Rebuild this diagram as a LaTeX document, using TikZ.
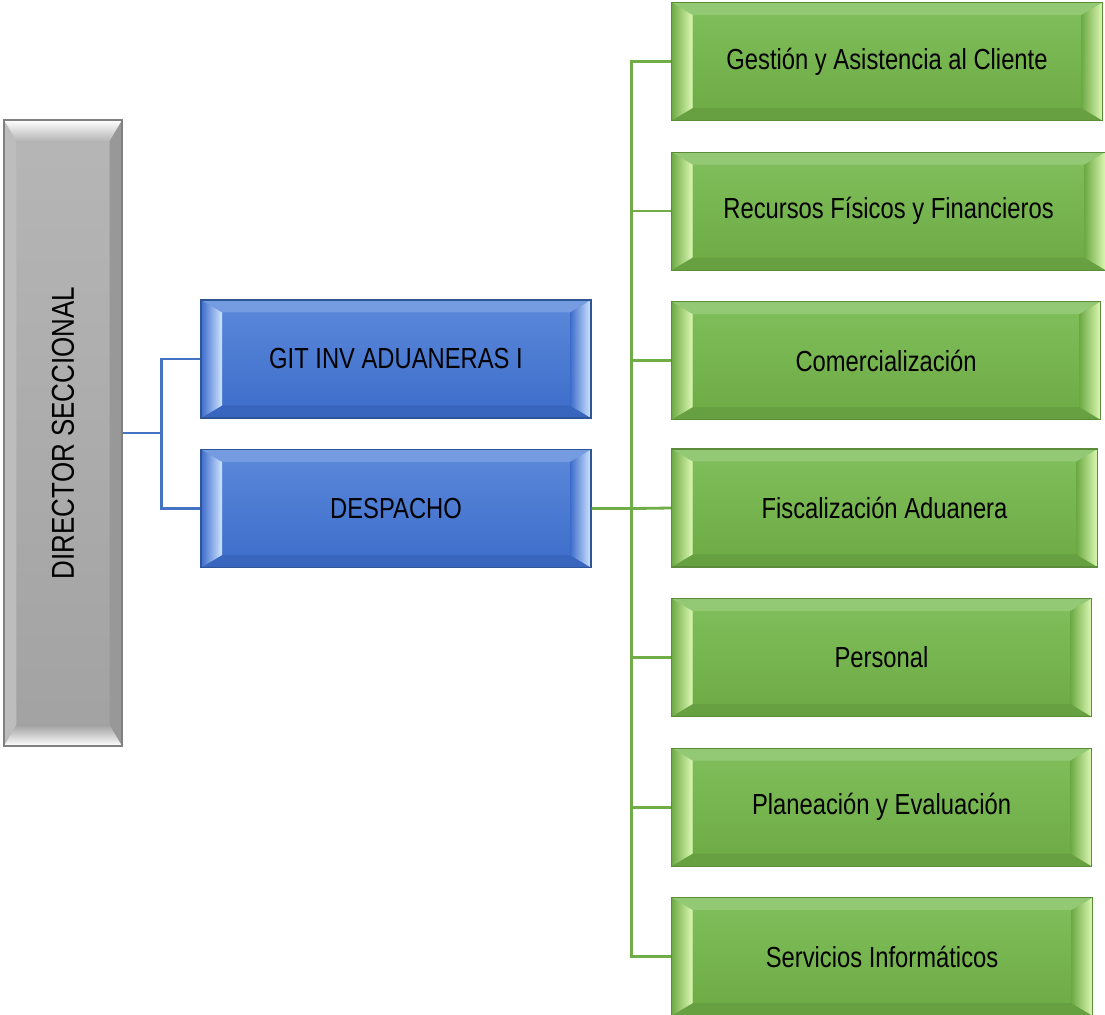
\documentclass[tikz,border=0pt]{standalone}
\usepackage{fontspec}
\setmainfont[FakeStretch=0.82]{Liberation Sans}
\usepackage{tikz}
\usetikzlibrary{positioning,calc}

\definecolor{greentop}{HTML}{80BF5C}
\definecolor{greenbot}{HTML}{6DAA44}
\definecolor{greenhi}{HTML}{DDF8B4}
\definecolor{greenline}{HTML}{70AD47}
\definecolor{greenedge}{HTML}{5B8C3A}
\definecolor{bluetop}{HTML}{5C89DA}
\definecolor{bluebot}{HTML}{3C6CCA}
\definecolor{bluehi}{HTML}{CFE4FF}
\definecolor{blueline}{HTML}{4472C4}
\definecolor{blueedge}{HTML}{2F5597}
\definecolor{graytop}{HTML}{B6B6B6}
\definecolor{graybot}{HTML}{A2A2A2}
\definecolor{grayedge}{HTML}{808080}

\def\bevx{0.42cm}
\def\bevy{0.25cm}

\begin{document}
\begin{tikzpicture}[
    font=\fontsize{16.5}{19}\selectfont,
    % bevel with light strips on the left and right
    hbevel/.style n args={4}{draw=#4, line width=0.6pt, top color=#1, bottom color=#2,
      path picture={
        \coordinate (bsw) at (path picture bounding box.south west);
        \coordinate (bne) at (path picture bounding box.north east);
        \coordinate (bnw) at (bsw |- bne);
        \coordinate (bse) at (bne |- bsw);
        \coordinate (isw) at ($(bsw)+(\bevx,\bevy)$);
        \coordinate (ine) at ($(bne)+(-\bevx,-\bevy)$);
        \coordinate (inw) at ($(bnw)+(\bevx,-\bevy)$);
        \coordinate (ise) at ($(bse)+(-\bevx,\bevy)$);
        \fill[#1!85!white] (bnw) -- (bne) -- (ine) -- (inw) -- cycle;
        \fill[#2!94!black] (bsw) -- (bse) -- (ise) -- (isw) -- cycle;
        \shade[left color=#2, right color=#3] (bsw) -- (bnw) -- (inw) -- (isw) -- cycle;
        \shade[left color=#2, right color=#3] (bse) -- (bne) -- (ine) -- (ise) -- cycle;
      }},
    % bevel with light strips on the top and bottom
    vbevel/.style n args={4}{draw=#4, line width=0.6pt, top color=#1, bottom color=#2,
      path picture={
        \coordinate (bsw) at (path picture bounding box.south west);
        \coordinate (bne) at (path picture bounding box.north east);
        \coordinate (bnw) at (bsw |- bne);
        \coordinate (bse) at (bne |- bsw);
        \coordinate (isw) at ($(bsw)+(\bevy,\bevx)$);
        \coordinate (ine) at ($(bne)+(-\bevy,-\bevx)$);
        \coordinate (inw) at ($(bnw)+(\bevy,-\bevx)$);
        \coordinate (ise) at ($(bse)+(-\bevy,\bevx)$);
        \fill[#1!90!white] (bsw) -- (bnw) -- (inw) -- (isw) -- cycle;
        \fill[#2!94!black] (bse) -- (bne) -- (ine) -- (ise) -- cycle;
        \shade[top color=#3, bottom color=#1] (bnw) -- (bne) -- (ine) -- (inw) -- cycle;
        \shade[top color=#2, bottom color=#3] (bsw) -- (bse) -- (ise) -- (isw) -- cycle;
      }},
    dirbox/.style={vbevel={graytop}{graybot}{white}{grayedge}, minimum width=2.36cm, minimum height=12.52cm, inner sep=0pt, font=\fontsize{18}{21}\selectfont},
    bluebox/.style={hbevel={bluetop}{bluebot}{bluehi}{blueedge}, minimum width=7.8cm, minimum height=2.36cm, inner sep=0pt},
    greenbox/.style={hbevel={greentop}{greenbot}{greenhi}{greenedge}, minimum height=2.36cm, inner sep=0pt},
    blueconn/.style={draw=blueline, line width=1.6pt},
    greenconn/.style={draw=greenline, line width=1.6pt}
]
\useasboundingbox (0,0) rectangle (22.1,20.28);

% Director
\node[dirbox] (dir) at (1.26,11.62) {\rotatebox{90}{DIRECTOR SECCIONAL}};

% Second level
\node[bluebox] (git) at (7.92,13.10) {GIT INV ADUANERAS I};
\node[bluebox, below=0.61cm of git] (desp) {DESPACHO};

% Groups under DESPACHO
\node[greenbox, minimum width=8.62cm, anchor=north west] (g1) at (13.42,20.24) {Gestión y Asistencia al Cliente};
\node[greenbox, minimum width=8.68cm, below=0.61cm of g1.south west, anchor=north west] (g2) {Recursos Físicos y Financieros};
\node[greenbox, minimum width=8.58cm, below=0.61cm of g2.south west, anchor=north west] (g3) {Comercialización};
\node[greenbox, minimum width=8.52cm, anchor=west] (g4) at (13.42,10.12) {Fiscalización Aduanera};
\node[greenbox, minimum width=8.40cm, below=0.61cm of g4.south west, anchor=north west] (g5) {Personal};
\node[greenbox, minimum width=8.40cm, below=0.61cm of g5.south west, anchor=north west] (g6) {Planeación y Evaluación};
\node[greenbox, minimum width=8.42cm, below=0.61cm of g6.south west, anchor=north west] (g7) {Servicios Informáticos};

% Connectors
\draw[blueconn] (dir.east) -- ++(0.78,0) coordinate (bbus) |- (git.west);
\draw[blueconn] (bbus) |- (desp.west);

\draw[greenconn] (desp.east) -- ++(0.8,0) coordinate (gbus) -- (g4.west);
\foreach \g in {g1,g2,g3,g5,g6,g7}
  \draw[greenconn] (gbus) |- (\g.west);

\end{tikzpicture}
\end{document}
